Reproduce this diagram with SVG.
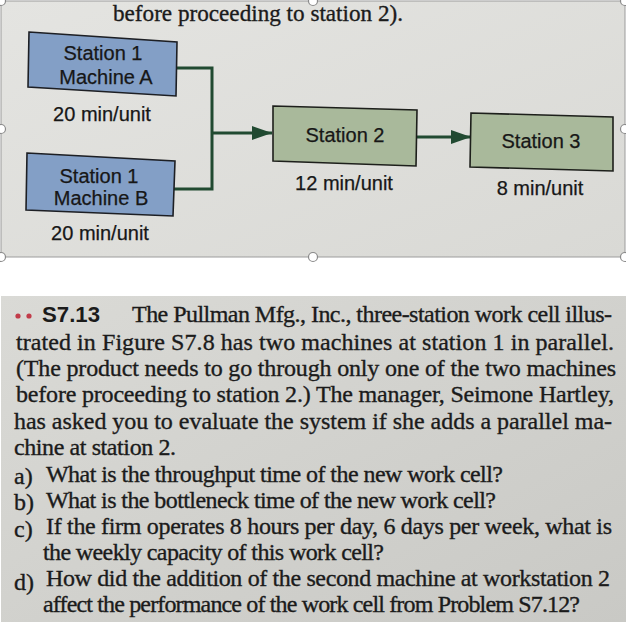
<svg xmlns="http://www.w3.org/2000/svg" width="626" height="622" viewBox="0 0 626 622">
<defs>
<style>
.lbl{font-family:'Liberation Sans',Arial,sans-serif;font-size:20px;fill:#171717;text-anchor:middle;stroke:#171717;stroke-width:0.25}
.boxb{fill:#839fc6;stroke:#1d1f24;stroke-width:1.6}
.boxg{fill:#a9b99b;stroke:#1d1f1b;stroke-width:1.6}
.conn{fill:none;stroke:#214a31;stroke-width:3;stroke-linejoin:miter}
.body{font-family:'Liberation Serif','Times New Roman',serif;font-size:24px;fill:#1b1b1b;stroke:#1b1b1b;stroke-width:0.35}
.handle{fill:#ffffff;stroke:#8a8a8a;stroke-width:1.2}
</style>
<marker id="ah" viewBox="0 0 20 14" refX="20" refY="7" markerWidth="20" markerHeight="14" markerUnits="userSpaceOnUse" orient="auto">
<path d="M0,0 L20,7 L0,14 Z" fill="#214a31"/>
</marker>
<linearGradient id="gtop" x1="0" y1="0" x2="1" y2="1">
<stop offset="0" stop-color="#e4e4e1"/>
<stop offset="1" stop-color="#d9d9d5"/>
</linearGradient>
<linearGradient id="gbot" x1="0" y1="0" x2="1" y2="1">
<stop offset="0" stop-color="#dadad6"/>
<stop offset="1" stop-color="#c9c9c5"/>
</linearGradient>
</defs>
<rect width="626" height="622" fill="#ffffff"/>

<!-- top picture -->
<rect x="1" y="1" width="624" height="256" fill="url(#gtop)" stroke="#9c9c9c" stroke-width="1"/>
<text class="body" x="113" y="21" textLength="290" lengthAdjust="spacingAndGlyphs">before proceeding to station 2).</text>

<g id="connectors">
<path class="conn" d="M177,68 H212 V189 H173"/>
<path class="conn" d="M212,133 H272" marker-end="url(#ah)"/>
<path class="conn" d="M417,137 H471" marker-end="url(#ah)"/>
</g>

<g id="machineA">
<polygon class="boxb" points="29,32 177,42 176,96 28,87"/>
<text class="lbl" x="103" y="60">Station 1</text>
<text class="lbl" x="106" y="84">Machine A</text>
<text class="lbl" x="102" y="121">20 min/unit</text>
</g>

<g id="machineB">
<polygon class="boxb" points="27,153 175,161 173,216 26,210"/>
<text class="lbl" x="99" y="183">Station 1</text>
<text class="lbl" x="101" y="205">Machine B</text>
<text class="lbl" x="100" y="240">20 min/unit</text>
</g>

<g id="station2">
<polygon class="boxg" points="273,106 417,110 416,166 273,161"/>
<text class="lbl" x="345" y="142">Station 2</text>
<text class="lbl" x="344" y="190">12 min/unit</text>
</g>

<g id="station3">
<polygon class="boxg" points="471,113 613,117 613,171 470,167"/>
<text class="lbl" x="541" y="148">Station 3</text>
<text class="lbl" x="540" y="195">8 min/unit</text>
</g>

<g id="handles">
<circle class="handle" cx="1" cy="1" r="4.5"/>
<circle class="handle" cx="313" cy="1" r="4.5"/>
<circle class="handle" cx="625" cy="1" r="4.5"/>
<circle class="handle" cx="1" cy="129" r="4.5"/>
<circle class="handle" cx="625" cy="129" r="4.5"/>
<circle class="handle" cx="1" cy="257" r="4.5"/>
<circle class="handle" cx="313" cy="257" r="4.5"/>
<circle class="handle" cx="625" cy="257" r="4.5"/>
</g>

<!-- bottom picture -->
<rect x="1" y="296" width="625" height="326" fill="url(#gbot)"/>
<circle cx="18" cy="316" r="2.6" fill="#c23c4a"/>
<circle cx="29" cy="316" r="2.6" fill="#c23c4a"/>
<text x="42" y="322" font-family="'Liberation Sans',Arial,sans-serif" font-size="22" font-weight="bold" fill="#1b1b1b" textLength="58" lengthAdjust="spacingAndGlyphs">S7.13</text>
<text class="body" x="132" y="322" textLength="480">The Pullman Mfg., Inc., three-station work cell illus-</text>
<text class="body" x="16" y="350" textLength="598">trated in Figure S7.8 has two machines at station 1 in parallel.</text>
<text class="body" x="16" y="376" textLength="600">(The product needs to go through only one of the two machines</text>
<text class="body" x="16" y="402" textLength="598">before proceeding to station 2.) The manager, Seimone Hartley,</text>
<text class="body" x="14" y="429" textLength="598">has asked you to evaluate the system if she adds a parallel ma-</text>
<text class="body" x="14" y="455" textLength="162">chine at station 2.</text>
<text class="body" x="14" y="484">a)</text>
<text class="body" x="46" y="482" textLength="457">What is the throughput time of the new work cell?</text>
<text class="body" x="14" y="510">b)</text>
<text class="body" x="46" y="508" textLength="450">What is the bottleneck time of the new work cell?</text>
<text class="body" x="14" y="537">c)</text>
<text class="body" x="46" y="534" textLength="566">If the firm operates 8 hours per day, 6 days per week, what is</text>
<text class="body" x="43" y="560" textLength="341">the weekly capacity of this work cell?</text>
<text class="body" x="14" y="590">d)</text>
<text class="body" x="46" y="586" textLength="564">How did the addition of the second machine at workstation 2</text>
<text class="body" x="43" y="612" textLength="537">affect the performance of the work cell from Problem S7.12?</text>
</svg>
